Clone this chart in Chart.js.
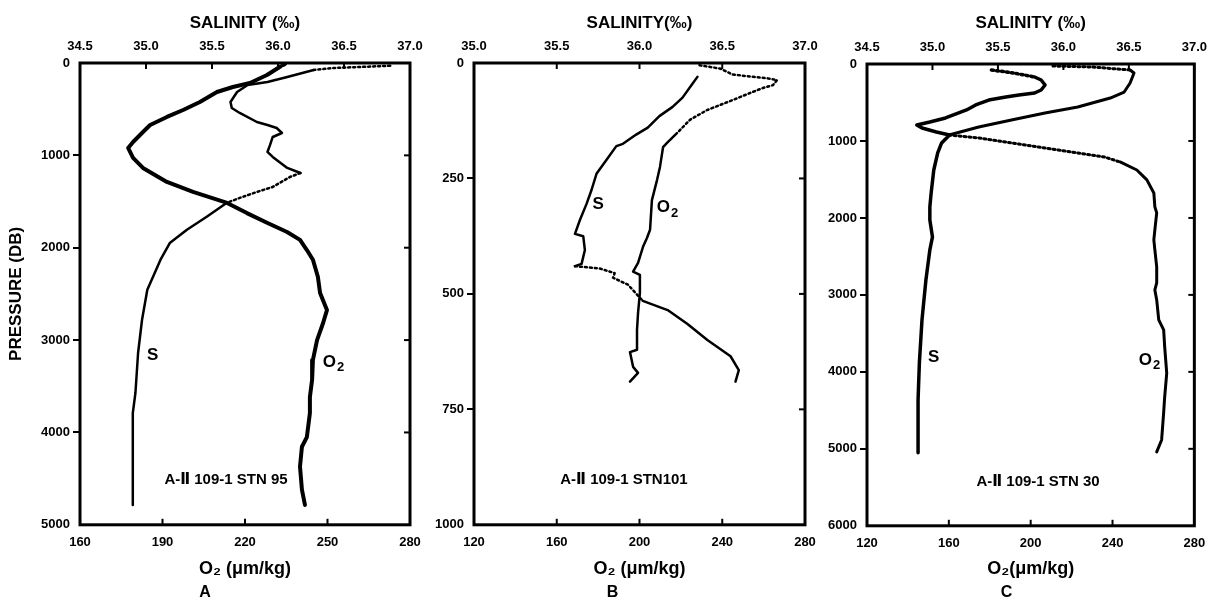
<!DOCTYPE html>
<html><head><meta charset="utf-8">
<script src="https://cdn.jsdelivr.net/npm/chart.js@4"></script>
<style>
html,body{margin:0;padding:0;background:#fff;}
body{width:1216px;height:604px;position:relative;overflow:hidden;}
.p{position:absolute;top:0;}
</style></head><body>
<div class="p" style="left:0px"><canvas id="cA" width="440" height="604"></canvas></div>
<div class="p" style="left:420px"><canvas id="cB" width="410" height="604"></canvas></div>
<div class="p" style="left:815px"><canvas id="cC" width="401" height="604"></canvas></div>
<script>
// ---------- tick labels ----------
const salTicksA = [34.5, 35.0, 35.5, 36.0, 36.5, 37.0];
const o2TicksA  = [160, 190, 220, 250, 280];
const presTicksA = [0, 1000, 2000, 3000, 4000, 5000];
const salTicksB = [35.0, 35.5, 36.0, 36.5, 37.0];
const o2TicksB  = [120, 160, 200, 240, 280];
const presTicksB = [0, 250, 500, 750, 1000];
const salTicksC = [34.5, 35.0, 35.5, 36.0, 36.5, 37.0];
const o2TicksC  = [120, 160, 200, 240, 280];
const presTicksC = [0, 1000, 2000, 3000, 4000, 5000, 6000];

// ---------- Panel A : STN 95 ----------
const stnA_salinity = [36.85,36.62,36.42,36.27,36.07,35.92,35.77,35.69,35.64,35.65,35.71,35.84,35.92,35.99,36.03,35.96,35.94,35.92,35.96,36.07,36.17,36.09,35.96,35.84,35.71,35.61,35.46,35.31,35.18,35.11,35.01,34.97,34.94,34.92,34.90,34.90,34.90];
const stnA_salPres  = [30,43,54,76,152,206,238,314,422,487,541,639,671,704,758,801,887,963,1017,1136,1191,1234,1342,1396,1461,1515,1665,1805,1950,2130,2455,2780,3140,3570,3790,4155,4785];
const stnA_oxygen   = [234.5,232,228,221.8,215.6,209.8,203.6,197.5,191.6,185.5,182.9,179.3,177.5,179.3,182.9,191.6,201.1,213.5,220.7,228,235.3,240,242.5,244.7,246.5,247.3,249.8,248.4,246.2,244.7,244.4,243.6,243.6,242.5,240.7,240,240.7,241.8];
const stnA_oxyPres  = [11,54,130,216,260,314,422,509,584,671,747,855,920,1028,1136,1288,1396,1515,1625,1730,1830,1915,2025,2130,2315,2490,2675,2815,3000,3215,3430,3615,3790,4050,4155,4370,4620,4785];

// ---------- Panel B : STN 101 ----------
const stnB_salinity = [36.35,36.32,36.26,36.20,36.12,36.05,35.98,35.90,35.86,35.80,35.74,35.71,35.68,35.64,35.61,35.66,35.67,35.65,35.61,35.76,35.85,35.84,35.93,36.02,36.17,36.29,36.41,36.55,36.60,36.58];
const stnB_salPres  = [30,45,75,95,115,140,155,175,180,210,240,275,305,340,370,375,405,435,440,445,455,465,480,515,535,565,600,635,665,690];
const stnB_oxygen   = [229,239,245,255,261.6,266.5,264.5,259.7,253.4,245.2,238.9,232.6,224.4,218.1,213.3,211.4,209.9,208.5,206,205.1,203.6,201.7,199.3,196.9,200.2,200.2,199.3,198.8,198.8,195.4,196.9,199.3,195.4];
const stnB_oxyPres  = [5,12,25,30,33,37,48,54,65,80,91,102,123,152,173,182,225,253,297,361,379,398,433,452,459,498,541,578,621,626,658,671,690];

// ---------- Panel C : STN 30 ----------
const stnC_salinity = [35.45,35.62,35.78,35.83,35.86,35.83,35.78,35.66,35.56,35.43,35.33,35.26,35.20,35.10,34.98,34.88,34.92,35.03,35.13,35.07,35.04,35.01,34.99,34.98,34.98,35.00,34.98,34.95,34.92,34.90,34.89,34.89];
const stnC_salPres  = [78,117,169,208,273,338,377,403,429,468,532,597,636,701,753,792,831,883,922,1026,1156,1377,1675,1857,2026,2247,2416,2805,3325,3883,4364,5052];
const stnC_oxygen   = [210.9,230.2,248.6,250.5,248.6,245.7,238.9,223.0,207.0,190.6,174.6,160.1,174.6,190.6,207.0,223.0,236.0,243.7,251.9,256.8,260.2,260.7,261.6,260.7,260.2,260.7,261.6,261.6,260.7,261.6,262.6,265.0,265.5,266.5,265.5,265.0,264.0,261.6];
const stnC_oxyPres  = [26,39,78,117,247,364,442,558,636,727,818,922,961,1026,1091,1156,1208,1273,1377,1506,1675,1857,1935,2155,2285,2415,2635,2845,2935,3065,3325,3455,3675,4015,4325,4530,4885,5040];

// ---------- helpers ----------
const FONT = '"Liberation Sans", "DejaVu Sans", Arial, sans-serif';
const zip = (xs, ys) => xs.map((v, i) => ({x: v, y: ys[i]}));
const inRanges = (i, ranges) => ranges.some(r => i >= r[0] && i < r[1]);

const framePlugin = {
  id: 'frame',
  afterDatasetsDraw(chart, args, opts) {
    const {ctx, chartArea: a} = chart;
    const ys = chart.scales.y, xt = chart.scales.xSal, xb = chart.scales.xO2;
    ctx.save();
    ctx.strokeStyle = '#000';
    ctx.lineWidth = 3;
    ctx.strokeRect(a.left, a.top, a.right - a.left, a.bottom - a.top);
    ctx.lineWidth = 2;
    const L = 6;
    const seg = (x1, y1, x2, y2) => { ctx.beginPath(); ctx.moveTo(x1, y1); ctx.lineTo(x2, y2); ctx.stroke(); };
    xt.ticks.forEach(t => { if (t.value > xt.min && t.value < xt.max) { const p = xt.getPixelForValue(t.value); seg(p, a.top, p, a.top + L); } });
    xb.ticks.forEach(t => { if (t.value > xb.min && t.value < xb.max) { const p = xb.getPixelForValue(t.value); seg(p, a.bottom, p, a.bottom - L); } });
    ys.ticks.forEach(t => { if (t.value > ys.min && t.value < ys.max) { const p = ys.getPixelForValue(t.value); seg(a.right, p, a.right - L, p); } });
    // text labels
    ctx.fillStyle = '#000';
    ctx.textBaseline = 'middle';
    (opts.labels || []).forEach(l => {
      const sx = chart.scales[l.axis];
      const px = sx.getPixelForValue(l.x), py = ys.getPixelForValue(l.y);
      if (l.text === 'O2') {
        ctx.font = 'bold 17px ' + FONT;
        const w1 = ctx.measureText('O').width;
        ctx.font = 'bold 13px ' + FONT;
        const w2 = ctx.measureText('2').width;
        const x0 = px - (w1 + w2) / 2;
        ctx.textAlign = 'left';
        ctx.font = 'bold 17px ' + FONT;
        ctx.fillText('O', x0, py);
        ctx.font = 'bold 13px ' + FONT;
        ctx.fillText('2', x0 + w1 + 1, py + 6);
      } else {
        ctx.font = 'bold ' + l.size + 'px ' + FONT;
        ctx.textAlign = 'center';
        ctx.fillText(l.text, px, py);
      }
    });
    ctx.restore();
  }
};

function makePanel(id, o) {
  const edgeColor = (ctx) => {
    const v = ctx.tick ? ctx.tick.value : null;
    return (v === o.pTicks[0] || v === o.pTicks[o.pTicks.length - 1]) ? 'rgba(0,0,0,0)' : '#000';
  };
  return new Chart(document.getElementById(id), {
    type: 'scatter',
    data: {
      datasets: [
        { label: 'S', xAxisID: 'xSal', yAxisID: 'y', data: zip(o.sal, o.salP), showLine: true,
          pointRadius: 0, borderColor: '#000', borderWidth: o.sW, borderCapStyle: 'round', borderJoinStyle: 'round',
          segment: { borderDash: c => inRanges(c.p0DataIndex, o.sDash) ? [2, 3] : undefined } },
        { label: 'O2', xAxisID: 'xO2', yAxisID: 'y', data: zip(o.oxy, o.oxyP), showLine: true,
          pointRadius: 0, borderColor: '#000', borderWidth: o.oW, borderCapStyle: 'round', borderJoinStyle: 'round',
          segment: { borderDash: c => inRanges(c.p0DataIndex, o.oDash) ? [2, 3] : undefined } }
      ]
    },
    options: {
      responsive: false, animation: false,
      layout: { padding: { left: 0, right: o.padR, top: 0, bottom: 0 } },
      plugins: {
        legend: { display: false }, tooltip: { enabled: false },
        title: { display: true, text: o.letter, position: 'bottom', color: '#000',
                 font: { family: FONT, size: 16, weight: 'bold' }, padding: { top: 0, bottom: 2 } },
        frame: { labels: o.labels }
      },
      scales: {
        y: {
          type: 'linear', position: 'left', reverse: true,
          min: o.pTicks[0], max: o.pTicks[o.pTicks.length - 1],
          afterBuildTicks: s => { s.ticks = o.pTicks.map(v => ({ value: v })); },
          afterFit: s => { s.width = o.yW; },
          ticks: { padding: 3, color: '#000', font: { family: FONT, size: 13, weight: 'bold' }, callback: v => String(v), autoSkip: false },
          grid: { drawOnChartArea: false, drawTicks: true, tickLength: 7, tickWidth: 2, tickColor: edgeColor, color: edgeColor, lineWidth: 2 },
          border: { display: false },
          title: { display: o.yTitle, text: 'PRESSURE (DB)', color: '#000', font: { family: FONT, size: 17, weight: 'bold' }, padding: { top: 6, bottom: 0 } }
        },
        xO2: {
          type: 'linear', position: 'bottom',
          min: o.oTicks[0], max: o.oTicks[o.oTicks.length - 1],
          afterBuildTicks: s => { s.ticks = o.oTicks.map(v => ({ value: v })); },
          afterFit: s => { s.height = o.botH; },
          ticks: { padding: 10, color: '#000', font: { family: FONT, size: 13, weight: 'bold' }, callback: v => String(v), autoSkip: false, maxRotation: 0 },
          grid: { display: false, drawTicks: false },
          border: { display: false },
          title: { display: true, text: o.o2Title, color: '#000', font: { family: FONT, size: 18, weight: 'bold' }, padding: { top: 0, bottom: 3 } }
        },
        xSal: {
          type: 'linear', position: 'top',
          min: o.sTicks[0], max: o.sTicks[o.sTicks.length - 1],
          afterBuildTicks: s => { s.ticks = o.sTicks.map(v => ({ value: v })); },
          afterFit: s => { s.height = o.topH; },
          ticks: { padding: 9, color: '#000', font: { family: FONT, size: 13, weight: 'bold' }, callback: v => v.toFixed(1), autoSkip: false, maxRotation: 0 },
          grid: { display: false, drawTicks: false },
          border: { display: false },
          title: { display: true, text: o.salTitle, color: '#000', font: { family: FONT, size: 17, weight: 'bold' }, padding: { top: 13, bottom: 0 } }
        }
      }
    },
    plugins: [framePlugin]
  });
}

makePanel('cA', {
  sal: stnA_salinity, salP: stnA_salPres, oxy: stnA_oxygen, oxyP: stnA_oxyPres,
  sTicks: salTicksA, oTicks: o2TicksA, pTicks: presTicksA,
  sDash: [[0, 3], [20, 25]], oDash: [[0, 1]], sW: 2.5, oW: 4,
  yW: 80, padR: 30, topH: 63, botH: 58, yTitle: true, letter: 'A',
  salTitle: 'SALINITY (‰)', o2Title: 'O₂ (μm/kg)',
  labels: [
    { text: 'S', axis: 'xSal', x: 35.05, y: 3160, size: 17 },
    { text: 'O2', axis: 'xO2', x: 252, y: 3236 },
    { text: 'A-Ⅱ 109-1 STN 95', axis: 'xO2', x: 213.1, y: 4513, size: 15 }
  ]
});
makePanel('cB', {
  sal: stnB_salinity, salP: stnB_salPres, oxy: stnB_oxygen, oxyP: stnB_oxyPres,
  sTicks: salTicksB, oTicks: o2TicksB, pTicks: presTicksB,
  sDash: [[18, 23]], oDash: [[0, 13]], sW: 2.5, oW: 2.5,
  yW: 54, padR: 25, topH: 63, botH: 58, yTitle: false, letter: 'B',
  salTitle: 'SALINITY(‰)', o2Title: 'O₂ (μm/kg)',
  labels: [
    { text: 'S', axis: 'xSal', x: 35.75, y: 307, size: 17 },
    { text: 'O2', axis: 'xO2', x: 213.3, y: 312 },
    { text: 'A-Ⅱ 109-1 STN101', axis: 'xO2', x: 192.5, y: 903, size: 15 }
  ]
});
makePanel('cC', {
  sal: stnC_salinity, salP: stnC_salPres, oxy: stnC_oxygen, oxyP: stnC_oxyPres,
  sTicks: salTicksC, oTicks: o2TicksC, pTicks: presTicksC,
  sDash: [[0, 2]], oDash: [[0, 2], [11, 17]], sW: 3.5, oW: 3,
  yW: 52, padR: 18, topH: 64, botH: 57, yTitle: false, letter: 'C',
  salTitle: 'SALINITY (‰)', o2Title: 'O₂(μm/kg)',
  labels: [
    { text: 'S', axis: 'xSal', x: 35.01, y: 3805, size: 17 },
    { text: 'O2', axis: 'xO2', x: 257.8, y: 3844 },
    { text: 'A-Ⅱ 109-1 STN 30', axis: 'xO2', x: 203.6, y: 5429, size: 15 }
  ]
});
</script>
</body></html>
